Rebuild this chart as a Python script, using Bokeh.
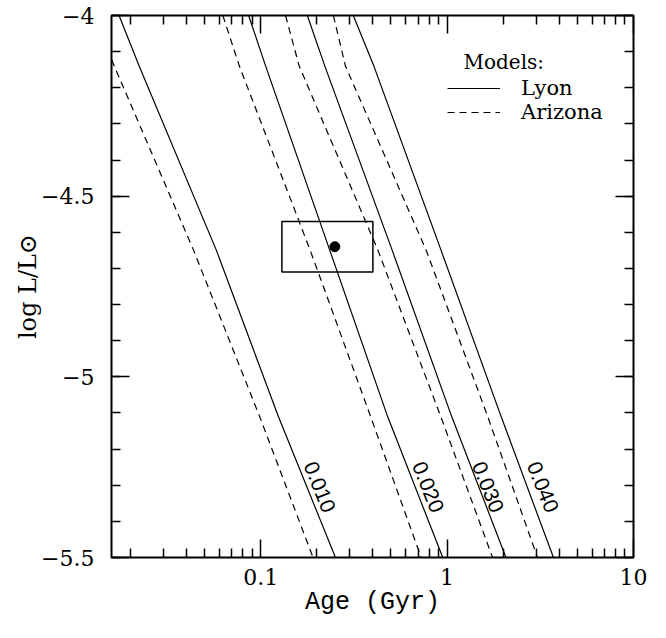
import math
from bokeh.plotting import figure
from bokeh.models import (Range1d, LogAxis, LinearAxis, FixedTicker, SingleIntervalTicker,
                          CustomJSTickFormatter, Legend, LegendItem, Label,
                          CustomLabelingPolicy)
from bokeh.core.properties import value
from bokeh.embed import file_html
from bokeh.resources import INLINE

# ---------------- data ----------------
# log L/L_sun levels at which each track was read
track_logL = [-4.0, -4.14, -4.65, -5.11, -5.5]

# ages (Gyr) of each track at those luminosities
lyon_010 = [0.0174, 0.0223, 0.0579, 0.1245, 0.252]
lyon_020 = [0.0862, 0.1064, 0.235, 0.480, 0.948]
lyon_030 = [0.178, 0.221, 0.508, 1.059, 2.07]
lyon_040 = [0.314, 0.405, 0.929, 1.95, 3.72]

arizona_010 = [0.0126, 0.0164, 0.0437, 0.0988, 0.191]
arizona_020 = [0.0627, 0.0769, 0.1845, 0.389, 0.726]
arizona_030 = [0.136, 0.161, 0.426, 0.925, 1.754]
arizona_040 = [0.2455, 0.285, 0.773, 1.652, 3.055]

# mass labels
mass_labels = ["0.010", "0.020", "0.030", "0.040"]
mass_label_age = [0.207, 0.79, 1.655, 3.26]
mass_label_logL = [-5.305, -5.305, -5.305, -5.305]

# observed object: age range, luminosity range, best value
obj_age_range = [0.13, 0.40]
obj_logL_range = [-4.71, -4.57]
obj_age = [0.25]
obj_logL = [-4.64]

# axes
x_major_ticks = [0.1, 1, 10]
x_minor_ticks = [0.02, 0.03, 0.04, 0.05, 0.06, 0.07, 0.08, 0.09,
                 0.2, 0.3, 0.4, 0.5, 0.6, 0.7, 0.8, 0.9,
                 2, 3, 4, 5, 6, 7, 8, 9]
x_limits = [10 ** -1.8, 10]
y_limits = [-5.5, -4.0]

x_title = "Age (Gyr)"
y_title = "log L/L\u2299"
legend_labels = ["Lyon", "Arizona"]
legend_title = "Models:"

# ---------------- figure ----------------
SERIF = "DejaVu Serif"
MONO = "Liberation Mono"

p = figure(width=658, height=630, x_axis_type="log",
           x_range=Range1d(*x_limits), y_range=Range1d(*y_limits),
           output_backend="svg", toolbar_location=None,
           min_border_left=111, min_border_right=25,
           min_border_top=15, min_border_bottom=73)
p.grid.visible = False
p.outline_line_color = "black"
p.outline_line_width = 2
p.background_fill_color = "white"
p.border_fill_color = "white"

xticker = FixedTicker(ticks=x_major_ticks, minor_ticks=x_minor_ticks)
yticker = SingleIntervalTicker(interval=0.5, num_minor_ticks=5)
xfmt = CustomJSTickFormatter(code="return tick >= 1 ? tick.toFixed(0) : tick.toFixed(1);")
yfmt = CustomJSTickFormatter(code="const s = Math.abs(tick).toString(); return tick < 0 ? '\u2212' + s : s;")
no_labels = CustomLabelingPolicy(code="return new Set();")


def style_axis(ax, labels=True):
    ax.axis_line_color = None
    ax.major_tick_in = 18
    ax.major_tick_out = 0
    ax.minor_tick_in = 9
    ax.minor_tick_out = 0
    ax.major_tick_line_color = "black"
    ax.minor_tick_line_color = "black"
    ax.major_tick_line_width = 1.5
    ax.minor_tick_line_width = 1.5
    if labels:
        ax.major_label_text_font = SERIF
        ax.major_label_text_font_size = "22px"
        ax.major_label_text_color = "black"
    else:
        ax.major_label_policy = no_labels
        ax.major_label_standoff = 0


xb = p.xaxis[0]
xb.ticker = xticker
xb.formatter = xfmt
style_axis(xb)
xb.major_label_standoff = 11
xb.axis_label = x_title
xb.axis_label_text_font = MONO
xb.axis_label_text_font_size = "25px"
xb.axis_label_text_font_style = "normal"
xb.axis_label_text_color = "black"
xb.axis_label_standoff = 0

yl = p.yaxis[0]
yl.ticker = yticker
yl.formatter = yfmt
style_axis(yl)
yl.major_label_standoff = 17
yl.axis_label = y_title
yl.axis_label_text_font = SERIF
yl.axis_label_text_font_size = "24px"
yl.axis_label_text_font_style = "normal"
yl.axis_label_text_color = "black"
yl.axis_label_standoff = -4

xt = LogAxis(ticker=xticker, formatter=xfmt)
style_axis(xt, labels=False)
p.add_layout(xt, "above")

yr = LinearAxis(ticker=yticker, formatter=yfmt)
style_axis(yr, labels=False)
p.add_layout(yr, "right")

# ---------------- tracks ----------------
lyon = [lyon_010, lyon_020, lyon_030, lyon_040]
arizona = [arizona_010, arizona_020, arizona_030, arizona_040]

lyon_r = [p.line(ages, track_logL, line_color="black", line_width=1.2) for ages in lyon]
ariz_r = [p.line(ages, track_logL, line_color="black", line_width=1.2, line_dash="7 5")
          for ages in arizona]

# mass labels along tracks
p.text(x=mass_label_age, y=mass_label_logL, text=mass_labels,
       angle=-1.19, text_align="center", text_baseline="middle",
       text_font=value("Liberation Sans"), text_font_size="21px", text_color="black")

# observed object box and point
p.quad(left=[obj_age_range[0]], right=[obj_age_range[1]],
       bottom=[obj_logL_range[0]], top=[obj_logL_range[1]],
       fill_color=None, line_color="black", line_width=1.5)
p.scatter(x=obj_age, y=obj_logL, size=10, color="black")

# ---------------- legend ----------------
legend = Legend(items=[LegendItem(label=legend_labels[0], renderers=[lyon_r[0]]),
                       LegendItem(label=legend_labels[1], renderers=[ariz_r[0]])],
                location=(336, 433), glyph_width=53, glyph_height=20,
                label_height=20, label_standoff=21, spacing=0, padding=0, margin=0,
                border_line_color=None, background_fill_alpha=0,
                label_text_font=SERIF, label_text_font_size="21px",
                label_text_color="black")
p.add_layout(legend)

p.add_layout(Label(x=352, y=496, x_units="screen", y_units="screen", text=legend_title,
                   text_font=SERIF, text_font_size="20px", text_color="black",
                   text_baseline="alphabetic"))

open("out.html", "w").write(file_html(p, INLINE))
